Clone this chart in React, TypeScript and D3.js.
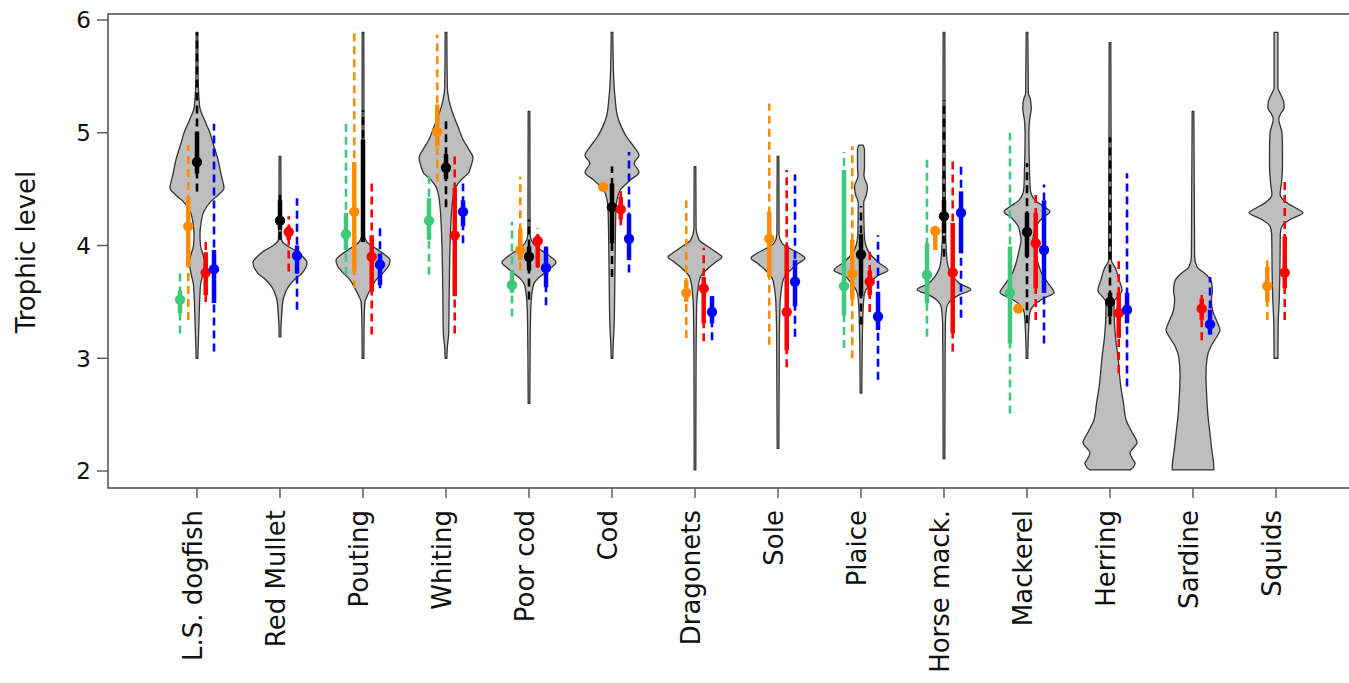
import React from "react";
import * as d3 from "d3";

// Trophic level estimates by species: violins = prior distribution,
// coloured marks = model estimates (point, 50% interval, 95% interval)

const species = [
  "L.S. dogfish", "Red Mullet", "Pouting", "Whiting", "Poor cod", "Cod", "Dragonets",
  "Sole", "Plaice", "Horse mack.", "Mackerel", "Herring", "Sardine", "Squids",
];

const yTicks = [2, 3, 4, 5, 6];

// violin profiles: [trophic level, relative density]
const violins: [number, number][][] = [
  [[5.89, 0.03], [5.5, 0.04], [5.23, 0.1], [5.1, 0.3], [5.0, 0.48], [4.9, 0.6], [4.76, 0.78], [4.62, 0.9], [4.51, 1.0], [4.45, 0.8], [4.4, 0.55], [4.3, 0.25], [4.2, 0.15], [4.1, 0.11], [4.0, 0.13], [3.92, 0.22], [3.85, 0.28], [3.75, 0.22], [3.65, 0.13], [3.52, 0.1], [3.3, 0.07], [3.0, 0.03]],
  [[4.79, 0.03], [4.3, 0.04], [4.05, 0.06], [4.0, 0.25], [3.95, 0.6], [3.9, 0.85], [3.85, 1.0], [3.8, 0.95], [3.75, 0.8], [3.7, 0.55], [3.63, 0.3], [3.55, 0.15], [3.5, 0.1], [3.4, 0.07], [3.3, 0.04], [3.19, 0.03]],
  [[5.89, 0.03], [4.1, 0.04], [4.03, 0.15], [3.97, 0.5], [3.92, 0.8], [3.87, 1.0], [3.82, 0.95], [3.76, 0.75], [3.7, 0.5], [3.62, 0.3], [3.55, 0.15], [3.5, 0.07], [3.3, 0.04], [3.0, 0.03]],
  [[5.89, 0.03], [5.4, 0.05], [5.29, 0.11], [5.14, 0.3], [5.05, 0.45], [4.94, 0.63], [4.85, 0.85], [4.78, 1.0], [4.7, 0.92], [4.64, 0.82], [4.58, 0.55], [4.52, 0.37], [4.45, 0.28], [4.34, 0.22], [4.0, 0.15], [3.6, 0.12], [3.22, 0.1], [3.1, 0.05], [3.0, 0.03]],
  [[5.19, 0.03], [4.1, 0.04], [4.02, 0.15], [3.95, 0.5], [3.9, 0.8], [3.85, 1.0], [3.8, 0.8], [3.75, 0.55], [3.7, 0.3], [3.66, 0.18], [3.58, 0.11], [3.4, 0.06], [3.0, 0.04], [2.6, 0.03]],
  [[5.89, 0.03], [5.5, 0.06], [5.29, 0.12], [5.15, 0.2], [5.05, 0.35], [4.96, 0.55], [4.88, 0.8], [4.8, 1.0], [4.73, 0.82], [4.65, 1.0], [4.58, 0.68], [4.49, 0.3], [4.4, 0.18], [4.34, 0.15], [4.0, 0.12], [3.6, 0.1], [3.3, 0.08], [3.1, 0.04], [3.0, 0.03]],
  [[4.7, 0.03], [4.15, 0.04], [4.05, 0.15], [3.98, 0.55], [3.93, 0.85], [3.9, 1.0], [3.85, 0.75], [3.8, 0.5], [3.72, 0.2], [3.6, 0.1], [3.45, 0.06], [3.0, 0.04], [2.01, 0.03]],
  [[4.79, 0.03], [4.1, 0.04], [4.02, 0.15], [3.96, 0.55], [3.92, 0.85], [3.89, 1.0], [3.84, 0.75], [3.79, 0.5], [3.7, 0.2], [3.6, 0.12], [3.5, 0.08], [3.2, 0.05], [2.2, 0.03]],
  [[4.89, 0.08], [4.85, 0.13], [4.7, 0.13], [4.62, 0.11], [4.52, 0.24], [4.45, 0.2], [4.38, 0.1], [4.1, 0.12], [4.0, 0.18], [3.92, 0.35], [3.85, 0.65], [3.78, 1.0], [3.73, 0.6], [3.66, 0.35], [3.6, 0.17], [3.52, 0.1], [3.3, 0.06], [3.0, 0.04], [2.69, 0.03]],
  [[5.89, 0.03], [4.2, 0.05], [3.9, 0.1], [3.8, 0.17], [3.72, 0.35], [3.66, 0.6], [3.61, 1.0], [3.56, 0.55], [3.5, 0.2], [3.45, 0.1], [3.3, 0.05], [2.8, 0.04], [2.11, 0.03]],
  [[5.89, 0.03], [5.35, 0.05], [5.3, 0.12], [5.22, 0.16], [5.12, 0.1], [5.0, 0.07], [4.7, 0.09], [4.5, 0.12], [4.4, 0.3], [4.35, 0.6], [4.3, 0.85], [4.25, 0.6], [4.18, 0.35], [4.1, 0.25], [4.05, 0.22], [3.95, 0.3], [3.85, 0.4], [3.75, 0.55], [3.66, 0.8], [3.58, 1.0], [3.53, 0.6], [3.47, 0.25], [3.4, 0.1], [3.2, 0.05], [3.0, 0.03]],
  [[5.8, 0.03], [4.0, 0.05], [3.87, 0.05], [3.8, 0.2], [3.7, 0.33], [3.6, 0.45], [3.55, 0.3], [3.5, 0.15], [3.43, 0.15], [3.2, 0.2], [3.0, 0.3], [2.75, 0.4], [2.6, 0.5], [2.45, 0.6], [2.35, 0.8], [2.25, 1.0], [2.2, 0.85], [2.16, 0.74], [2.1, 0.85], [2.07, 0.93], [2.03, 0.85], [2.01, 0.74]],
  [[5.19, 0.03], [4.4, 0.05], [3.9, 0.06], [3.81, 0.15], [3.75, 0.45], [3.68, 0.68], [3.6, 0.72], [3.52, 0.68], [3.43, 0.72], [3.33, 0.88], [3.25, 1.0], [3.18, 0.85], [3.1, 0.65], [3.0, 0.52], [2.85, 0.48], [2.7, 0.5], [2.5, 0.55], [2.35, 0.62], [2.18, 0.7], [2.07, 0.76], [2.01, 0.77]],
  [[5.89, 0.07], [5.4, 0.07], [5.35, 0.15], [5.28, 0.28], [5.22, 0.3], [5.17, 0.18], [5.12, 0.1], [5.0, 0.22], [4.85, 0.24], [4.7, 0.24], [4.55, 0.2], [4.45, 0.15], [4.38, 0.4], [4.33, 0.75], [4.29, 1.0], [4.24, 0.6], [4.17, 0.22], [4.1, 0.16], [3.9, 0.15], [3.7, 0.14], [3.52, 0.12], [3.3, 0.08], [3.0, 0.07]],
];

// estimates: [point, 50% low, 50% high, 95% low, 95% high]
type Est = [number | null, number, number, number, number] | null;

const greenEst: Est[] = [
  [3.52, 3.4, 3.6, 3.22, 3.77], null, [4.1, 3.96, 4.29, 3.74, 5.11], [4.22, 4.05, 4.42, 3.74, 4.65],
  [3.65, 3.58, 3.78, 3.37, 4.21], null, null, null, [3.64, 3.38, 4.67, 3.09, 4.83],
  [3.74, 3.49, 4.02, 3.19, 4.77], [3.58, 3.13, 3.99, 2.51, 5.0], null, null, null,
];
const orangeEst: Est[] = [
  [4.17, 3.81, 4.43, 3.34, 4.89], null, [4.3, 3.77, 4.74, 3.62, 5.93], [5.01, 4.88, 5.25, 4.57, 5.87],
  [3.96, 3.87, 4.15, 3.78, 4.61], [4.52, 4.5, 4.54, 4.5, 4.54], [3.58, 3.5, 3.69, 3.18, 4.4],
  [4.06, 3.72, 4.3, 3.12, 5.26], [3.75, 3.52, 4.05, 3.0, 4.88], [4.13, 3.96, 4.17, 3.96, 4.17],
  [3.44, 3.42, 3.46, 3.42, 3.46], null, null, [3.64, 3.5, 3.81, 3.34, 3.87],
];
const blackEst: Est[] = [
  [4.74, 4.64, 5.01, 4.48, 5.89], [4.22, 4.14, 4.4, 4.05, 4.45], [null, 4.03, 4.94, 4.03, 5.2],
  [4.69, 4.59, 4.81, 4.34, 5.14], [3.9, 3.78, 3.99, 3.52, 4.23], [4.34, 4.02, 4.55, 3.72, 4.7],
  null, null, [3.92, 3.55, 4.1, 3.3, 4.35], [4.26, 4.11, 4.4, 3.9, 5.29],
  [4.12, 3.9, 4.29, 3.31, 4.73], [3.5, 3.37, 3.58, 3.3, 4.96], null, null,
];
const redEst: Est[] = [
  [3.76, 3.56, 3.94, 3.5, 4.05], [4.12, 4.05, 4.17, 3.77, 4.26], [3.9, 3.59, 4.09, 3.21, 4.56],
  [4.09, 3.55, 4.51, 3.22, 4.79], [4.04, 3.81, 4.09, 3.8, 4.15], [4.32, 4.23, 4.43, 4.18, 4.52],
  [3.62, 3.31, 3.72, 3.15, 3.98], [3.41, 3.07, 4.0, 2.92, 4.67], [3.68, 3.56, 3.78, 3.41, 3.96],
  [3.76, 3.22, 4.2, 3.06, 4.79], [4.02, 3.62, 4.29, 3.34, 4.48], [3.4, 3.18, 3.58, 2.87, 3.86],
  [3.44, 3.34, 3.53, 3.16, 3.56], [3.76, 3.62, 4.08, 3.34, 4.58],
];
const blueEst: Est[] = [
  [3.79, 3.49, 3.96, 3.06, 5.08], [3.91, 3.75, 4.0, 3.43, 4.42], [3.83, 3.65, 3.93, 3.62, 4.16],
  [4.3, 4.17, 4.4, 4.02, 4.55], [3.8, 3.63, 3.99, 3.47, 3.99], [4.06, 3.87, 4.28, 3.76, 4.83],
  [3.41, 3.31, 3.55, 3.16, 3.55], [3.68, 3.46, 3.87, 3.19, 4.63], [3.37, 3.25, 3.59, 2.81, 4.09],
  [4.29, 3.93, 4.48, 3.36, 4.73], [3.96, 3.58, 4.4, 3.13, 4.54], [3.43, 3.31, 3.58, 2.75, 4.64],
  [3.3, 3.21, 3.43, 3.21, 3.72], null,
];

const series = [
  { data: greenEst, color: "#3ec87a", offset: -0.205 },
  { data: orangeEst, color: "#ff8c00", offset: -0.105 },
  { data: blackEst, color: "#000000", offset: 0 },
  { data: redEst, color: "#ff0000", offset: 0.105 },
  { data: blueEst, color: "#0000ff", offset: 0.205 },
];

const W = 1349, H = 683;
const box = { left: 108, top: 14, bottom: 488, right: 1362 };
const font = "'DejaVu Sans', Verdana, sans-serif";

function App() {
  const x = d3.scaleLinear().domain([1, 14]).range([197, 1276]);
  const y = d3.scaleLinear().domain([2, 6]).range([471, 20]);
  const w = d3.scaleLinear().domain([0, 1]).range([0, 27]);

  return (
    <svg width={W} height={H} style={{ position: "absolute", left: 0, top: 0, display: "block" }}>
      <rect x={box.left} y={box.top} width={box.right - box.left} height={box.bottom - box.top}
        fill="none" stroke="#555" strokeWidth={1.6} />

      {violins.map((v, i) => {
        const cx = x(i + 1);
        const area = d3.area<[number, number]>()
          .y((d) => y(d[0]))
          .x0((d) => cx - w(d[1]))
          .x1((d) => cx + w(d[1]))
          .curve(d3.curveMonotoneY);
        return <path key={"v" + i} d={area(v) || ""} fill="#bebebe" stroke="#333" strokeWidth={1.3} />;
      })}

      {series.map((s, si) =>
        s.data.map((e, i) => {
          if (!e) return null;
          const cx = x(i + 1 + s.offset);
          const [p, lo50, hi50, lo95, hi95] = e;
          return (
            <g key={"s" + si + "-" + i}>
              <line x1={cx} x2={cx} y1={y(lo95)} y2={y(hi95)} stroke={s.color} strokeWidth={2.6}
                strokeDasharray="8,5" />
              <line x1={cx} x2={cx} y1={y(lo50)} y2={y(hi50)} stroke={s.color} strokeWidth={4.5} />
              {p !== null && <circle cx={cx} cy={y(p)} r={5.2} fill={s.color} />}
            </g>
          );
        })
      )}

      {yTicks.map((t) => (
        <g key={"y" + t}>
          <line x1={97} x2={box.left} y1={y(t)} y2={y(t)} stroke="#555" strokeWidth={1.4} />
          <text x={91} y={y(t)} dy="0.36em" textAnchor="end" fontFamily={font} fontSize={23} fill="#111">
            {t}
          </text>
        </g>
      ))}
      <text transform="translate(35,252) rotate(-90)" textAnchor="middle" fontFamily={font} fontSize={26} fill="#111">
        Trophic level
      </text>

      {species.map((name, i) => (
        <g key={"x" + i}>
          <line x1={x(i + 1)} x2={x(i + 1)} y1={box.bottom} y2={498} stroke="#555" strokeWidth={1.4} />
          <text transform={`translate(${x(i + 1) + 5},510) rotate(-90)`} textAnchor="end"
            fontFamily={font} fontSize={26} fill="#111">
            {name}
          </text>
        </g>
      ))}
    </svg>
  );
}

export default App;
